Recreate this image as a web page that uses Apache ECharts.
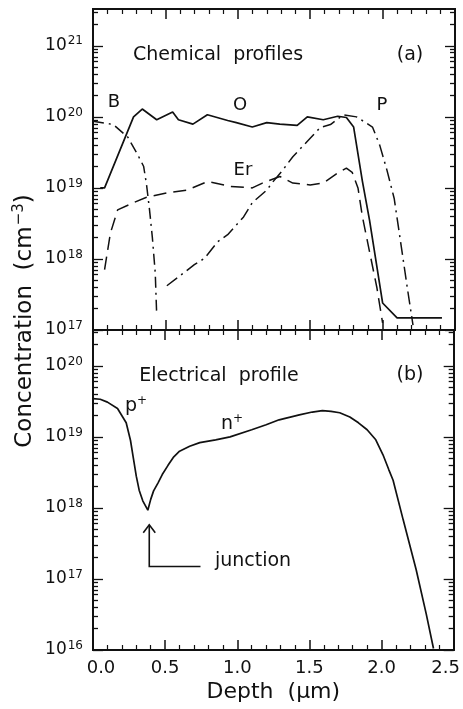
<!DOCTYPE html>
<html>
<head>
<meta charset="utf-8">
<script src="https://cdn.jsdelivr.net/npm/echarts@6/dist/echarts.min.js"></script>
<style>
html, body { margin: 0; padding: 0; background: #fff; }
#main { width: 463px; height: 709px; }
</style>
</head>
<body>
<div id="main"></div>
<script>
// (a) chemical profiles, depth in um, concentration in cm^-3
var depthO = [0.05, 0.08, 0.28, 0.34, 0.44, 0.55, 0.59, 0.69, 0.79, 0.93, 0.99, 1.10, 1.20, 1.29, 1.41, 1.48, 1.59, 1.69, 1.75, 1.80, 1.86, 1.91, 2.00, 2.10, 2.41];
var concO = [1.0e19, 1.0e19, 1.0e20, 1.29e20, 9.1e19, 1.17e20, 9.1e19, 7.9e19, 1.07e20, 8.9e19, 8.3e19, 7.2e19, 8.3e19, 7.9e19, 7.6e19, 1.0e20, 9.1e19, 1.02e20, 9.8e19, 7.2e19, 1.26e19, 3.5e18, 2.4e17, 1.48e17, 1.48e17];

var depthB = [0.0, 0.14, 0.24, 0.31, 0.35, 0.37, 0.39, 0.41, 0.43, 0.44];
var concB = [8.7e19, 7.8e19, 5.2e19, 2.9e19, 2.0e19, 1.1e19, 5.0e18, 2.0e18, 6.3e17, 1.6e17];

var depthEr = [0.08, 0.12, 0.17, 0.28, 0.37, 0.51, 0.65, 0.79, 0.95, 1.10, 1.17, 1.29, 1.38, 1.50, 1.59, 1.69, 1.75, 1.79, 1.83, 1.86, 1.91, 1.96, 2.00];
var concEr = [7.1e17, 2.3e18, 4.9e18, 6.2e18, 7.4e18, 8.5e18, 9.3e18, 1.23e19, 1.05e19, 1.0e19, 1.17e19, 1.45e19, 1.17e19, 1.10e19, 1.17e19, 1.62e19, 1.9e19, 1.66e19, 1.0e19, 4.0e18, 1.26e18, 4.0e17, 1.26e17];

var depthP = [0.51, 0.59, 0.70, 0.77, 0.86, 0.93, 1.04, 1.10, 1.20, 1.24, 1.31, 1.38, 1.50, 1.57, 1.64, 1.73, 1.82, 1.93, 1.98, 2.03, 2.08, 2.12, 2.17, 2.21];
var concP = [4.2e17, 5.6e17, 8.3e17, 1.02e18, 1.74e18, 2.2e18, 3.9e18, 6.2e18, 9.3e18, 1.2e19, 1.78e19, 2.75e19, 5.0e19, 7.1e19, 7.8e19, 1.07e20, 1.0e20, 7.2e19, 4.0e19, 1.78e19, 7.1e18, 2.0e18, 4.0e17, 1.17e17];

// (b) electrical profile
var depthEl = [0.0, 0.05, 0.10, 0.17, 0.23, 0.26, 0.28, 0.30, 0.32, 0.345, 0.38, 0.40, 0.42, 0.45, 0.48, 0.52, 0.56, 0.60, 0.67, 0.74, 0.85, 0.95, 1.10, 1.20, 1.29, 1.43, 1.52, 1.59, 1.65, 1.71, 1.78, 1.84, 1.90, 1.96, 2.01, 2.05, 2.08, 2.15, 2.24, 2.31, 2.36];
var concEl = [3.47e19, 3.39e19, 3.09e19, 2.51e19, 1.58e19, 8.9e18, 5.0e18, 2.8e18, 1.78e18, 1.26e18, 9.3e17, 1.32e18, 1.74e18, 2.24e18, 2.95e18, 3.98e18, 5.25e18, 6.3e18, 7.4e18, 8.3e18, 9.1e18, 1.0e19, 1.26e19, 1.48e19, 1.74e19, 2.04e19, 2.24e19, 2.34e19, 2.29e19, 2.19e19, 1.91e19, 1.58e19, 1.26e19, 9.1e18, 5.6e18, 3.47e18, 2.45e18, 6.8e17, 1.35e17, 3.2e16, 1.05e16];

// axes
var depthTicks = [0, 0.5, 1.0, 1.5, 2.0, 2.5];
var expTop = [17, 18, 19, 20, 21];
var expBottom = [16, 17, 18, 19, 20];
var rangeTop = [1e17, 3.3e21];
var rangeBottom = [1e16, 3.2e20];

var BLACK = '#111';
var FONT = 'DejaVu Sans';

function pairs(xs, ys) {
    return xs.map(function (x, i) { return [x, ys[i]]; });
}
function decades(exps) {
    return exps.map(function (e) { return Math.pow(10, e); });
}
function minors(lo, hi) {
    var out = [];
    for (var e = 15; e <= 21; e++) {
        for (var m = 2; m <= 9; m++) {
            var v = m * Math.pow(10, e);
            if (v > lo && v < hi) out.push(v);
        }
    }
    return out;
}

function xAx(grid, pos, labels) {
    return {
        type: 'value', gridIndex: grid, position: pos,
        min: 0, max: 2.5, interval: 0.5,
        axisLine: { show: true, onZero: false, lineStyle: { color: BLACK, width: 2 } },
        axisTick: { show: true, inside: true, length: 10, lineStyle: { color: BLACK, width: 1.5 } },
        minorTick: { show: true, splitNumber: 5, length: 5, lineStyle: { color: BLACK, width: 1.2 } },
        splitLine: { show: false },
        minorSplitLine: { show: false },
        axisLabel: {
            show: labels, margin: 9, showMinLabel: true, showMaxLabel: true,
            color: BLACK, fontFamily: FONT, fontSize: 18,
            formatter: function (v) {
                var s = v.toFixed(1);
                if (v === depthTicks[0]) return '{l|' + s + '}';
                if (v === depthTicks[depthTicks.length - 1]) return '{r|' + s + '}';
                return s;
            },
            rich: {
                l: { fontFamily: FONT, fontSize: 18, color: BLACK, padding: [0, 0, 0, 16] },
                r: { fontFamily: FONT, fontSize: 18, color: BLACK, padding: [0, 16, 0, 0] }
            }
        },
        name: labels ? 'Depth  (\u03bcm)' : '',
        nameLocation: 'middle', nameGap: 31,
        nameTextStyle: { color: BLACK, fontFamily: FONT, fontSize: 22 }
    };
}

function yAx(grid, pos, range, ticks, len, labelVals) {
    return {
        type: 'log', logBase: 10, gridIndex: grid, position: pos,
        min: range[0], max: range[1],
        axisLine: { show: true, onZero: false, lineStyle: { color: BLACK, width: 2 } },
        axisTick: { show: true, inside: true, length: len, customValues: ticks, lineStyle: { color: BLACK, width: 1.3 } },
        splitLine: { show: false },
        axisLabel: labelVals ? {
            show: true, customValues: labelVals, margin: 10,
            formatter: function (v) {
                return '{b|10}{s|' + Math.round(Math.log10(v)) + '}';
            },
            rich: {
                b: { fontFamily: FONT, fontSize: 17, color: BLACK },
                s: { fontFamily: FONT, fontSize: 12, color: BLACK, padding: [0, 0, 9, 1] }
            }
        } : { show: false }
    };
}

var lineBase = { type: 'line', showSymbol: false, symbol: 'none', animation: false, smooth: false };

function series(name, xs, ys, xi, yi, dash, width) {
    return Object.assign({}, lineBase, {
        name: name, xAxisIndex: xi, yAxisIndex: yi,
        data: pairs(xs, ys),
        lineStyle: { color: BLACK, width: width, type: dash }
    });
}

function txt(str, x, y, size, rich) {
    return {
        type: 'text', x: x, y: y, silent: true,
        style: {
            text: str, fill: BLACK, fontFamily: FONT, fontSize: size,
            align: 'center', verticalAlign: 'middle', rich: rich
        }
    };
}

var chart = echarts.init(document.getElementById('main'));

var option = {
    backgroundColor: '#fff',
    animation: false,
    grid: [
        { left: 93, top: 9, width: 362, height: 321 },
        { left: 93, top: 330, width: 362, height: 320 }
    ],
    xAxis: [
        xAx(0, 'bottom', false),
        xAx(0, 'top', false),
        xAx(1, 'bottom', true),
        xAx(1, 'top', false)
    ],
    yAxis: [
        yAx(0, 'left', rangeTop, decades(expTop), 10, decades(expTop)),
        yAx(0, 'left', rangeTop, minors(rangeTop[0], rangeTop[1]), 5, null),
        yAx(0, 'right', rangeTop, decades(expTop), 10, null),
        yAx(0, 'right', rangeTop, minors(rangeTop[0], rangeTop[1]), 5, null),
        yAx(1, 'left', rangeBottom, decades(expBottom), 10, decades(expBottom)),
        yAx(1, 'left', rangeBottom, minors(rangeBottom[0], rangeBottom[1]), 5, null),
        yAx(1, 'right', rangeBottom, decades(expBottom), 10, null),
        yAx(1, 'right', rangeBottom, minors(rangeBottom[0], rangeBottom[1]), 5, null)
    ],
    series: [
        series('O', depthO, concO, 0, 0, 'solid', 1.7),
        series('B', depthB, concB, 0, 0, [11, 5, 2, 5], 1.5),
        series('Er', depthEr, concEr, 0, 0, [13, 7], 1.5),
        series('P', depthP, concP, 0, 0, [13, 5, 2, 5], 1.5),
        series('electrical', depthEl, concEl, 2, 4, 'solid', 1.7)
    ]
};
chart.setOption(option);

// annotations
var tip = chart.convertToPixel({ xAxisIndex: 2, yAxisIndex: 4 }, [0.39, 5.8e17]);
var corner = chart.convertToPixel({ xAxisIndex: 2, yAxisIndex: 4 }, [0.39, 1.5e17]);
var armEnd = chart.convertToPixel({ xAxisIndex: 2, yAxisIndex: 4 }, [0.745, 1.5e17]);

var sup = { fontFamily: FONT, fontSize: 12, fill: BLACK, padding: [0, 0, 10, 0] };
var base19 = { fontFamily: FONT, fontSize: 19, fill: BLACK };

chart.setOption({
    graphic: [
        txt('Chemical  profiles', 218, 55, 19),
        txt('(a)', 410, 55, 19),
        txt('B', 114, 102, 18),
        txt('O', 240, 105, 18),
        txt('P', 382, 105, 18),
        txt('Er', 243, 170, 18),
        txt('Electrical  profile', 219, 376, 19),
        txt('(b)', 410, 375, 19),
        txt('{a|p}{s|+}', 136, 406, 19, { a: base19, s: sup }),
        txt('{a|n}{s|+}', 232, 424, 19, { a: base19, s: sup }),
        txt('junction', 253, 561, 19),
        {
            type: 'polyline', silent: true,
            shape: { points: [tip, corner, armEnd] },
            style: { stroke: BLACK, lineWidth: 1.6, fill: null }
        },
        {
            type: 'polyline', silent: true,
            shape: { points: [[tip[0] - 6, tip[1] + 8], tip, [tip[0] + 6, tip[1] + 8]] },
            style: { stroke: BLACK, lineWidth: 1.6, fill: null }
        },
        {
            type: 'text', x: 25, y: 321, rotation: Math.PI / 2, silent: true,
            style: {
                text: '{t|Concentration  (cm}{s|\u22123}{t|)}',
                align: 'center', verticalAlign: 'middle',
                rich: {
                    t: { fontFamily: FONT, fontSize: 23, fill: BLACK },
                    s: { fontFamily: FONT, fontSize: 15, fill: BLACK, padding: [0, 0, 12, 1] }
                }
            }
        }
    ]
});
</script>
</body>
</html>
